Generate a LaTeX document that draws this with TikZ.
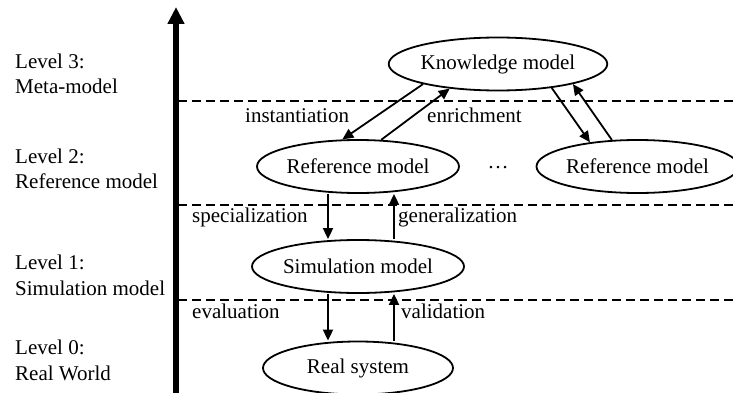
\documentclass[tikz,border=0pt]{standalone}
\usepackage{fontspec}
\setmainfont{Liberation Serif}
\usetikzlibrary{arrows.meta,shapes.geometric}
\begin{document}
\begin{tikzpicture}[x=1pt,y=-1pt,
  font=\fontsize{21}{25}\selectfont,
  model/.style={draw,ellipse,line width=1.8pt,minimum width=190pt,minimum height=53pt,inner sep=0pt},
  conn/.style={line width=1.8pt,-{Triangle[length=11pt,width=10pt]}},
  sep/.style={line width=2.6pt,dash pattern=on 9pt off 5pt},
  lvl/.style={anchor=base west,inner sep=0pt},
  elab/.style={anchor=base west,inner sep=0pt}]
\useasboundingbox (0,0) rectangle (733,393);
% axis
\coordinate (axb) at (176,393);
\coordinate (axt) at (176,7);
\draw[line width=5.5pt,-{Triangle[length=17pt,width=16pt]}] (axb) -- (axt);
% separators
\coordinate (s3a) at (178,101); \coordinate (s3b) at (733,101);
\coordinate (s2a) at (178,205); \coordinate (s2b) at (733,205);
\coordinate (s1a) at (178,300); \coordinate (s1b) at (733,300);
\draw[sep] (s3a) -- (s3b);
\draw[sep] (s2a) -- (s2b);
\draw[sep] (s1a) -- (s1b);
% level labels
\node[lvl] (l3a) at (15,69) {Level 3:};
\node[lvl] (l3b) at (15,94) {Meta-model};
\node[lvl] (l2a) at (15,163) {Level 2:};
\node[lvl] (l2b) at (15,188) {Reference model};
\node[lvl] (l1a) at (15,269) {Level 1:};
\node[lvl] (l1b) at (15,295) {Simulation model};
\node[lvl] (l0a) at (15,354) {Level 0:};
\node[lvl] (l0b) at (15,380) {Real World};
% models
\node[model] (km) at (498,64) {Knowledge model};
\node[model] (rm1) at (358,166.5) {Reference model};
\node[model] (rm2) at (637.5,166.5) {Reference model};
\node[model] (sm) at (358,266.5) {Simulation model};
\node[model] (rs) at (358,368) {Real system};
\node (dots) at (498,168) {\dots};
% columns for vertical connectors
\coordinate (cl) at (328,0);
\coordinate (cr) at (394,0);
% connectors
\draw[conn] (km.195) -- (rm1.120);
\draw[conn] (rm1.49.5) -- (km.207);
\draw[conn] (km.336) -- (rm2.153);
\draw[conn] (rm2.134) -- (km.345.5);
\draw[conn] (rm1.south -| cl) -- (sm.north -| cl);
\draw[conn] (sm.north -| cr) -- (rm1.south -| cr);
\draw[conn] (sm.south -| cl) -- (rs.north -| cl);
\draw[conn] (rs.north -| cr) -- (sm.south -| cr);
% edge labels
\node[elab] (li) at (245,123) {instantiation};
\node[elab] (le) at (427,123) {enrichment};
\node[elab] (ls) at (192,222) {specialization};
\node[elab] (lg) at (398,222) {generalization};
\node[elab] (lev) at (192,318) {evaluation};
\node[elab] (lva) at (401,318) {validation};
\end{tikzpicture}
\end{document}
